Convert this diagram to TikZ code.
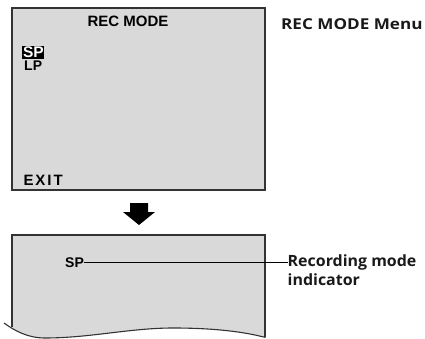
\documentclass[tikz,border=0pt]{standalone}
\usepackage{fontspec}
\setmainfont{Liberation Sans}
\newfontfamily\scrfont{Liberation Sans}
\newfontfamily\labfont{Open Sans}
\newfontfamily\menufont{Open Sans}[FakeStretch=1.14]
\newfontfamily\recfont{Open Sans}[FakeStretch=1.03]
\begin{document}
\begin{tikzpicture}[x=1pt,y=-1pt,
  screen/.style={fill=scrgray,draw=scrline,line width=1.3pt},
  scrtext/.style={font=\scrfont\bfseries\fontsize{15}{15}\selectfont,inner sep=0pt,text=black},
  hl/.style={font=\scrfont\bfseries\fontsize{15.5}{15.5}\selectfont,fill=black,text=white,inner xsep=0.8pt,inner ysep=0.8pt,text height=11pt,text depth=0pt},
  labtext/.style={font=\recfont\bfseries\fontsize{15.5}{15.5}\selectfont,inner sep=0pt,text=black!90},
  menutext/.style={font=\menufont\bfseries\fontsize{15}{15}\selectfont,inner sep=0pt,text=black!90},
  leader/.style={line width=1.1pt,draw=black}]
\definecolor{scrgray}{HTML}{D9D9D9}
\definecolor{scrline}{HTML}{333333}
\useasboundingbox (0,0) rectangle (425,339);
% top screen
\path[screen] (12,8) rectangle (265,190);
\node[scrtext,anchor=base] (title) at (128,26.3) {REC MODE};
\node[hl,anchor=base west] (sp1) at (22,58) {SP};
\node[scrtext,font=\scrfont\bfseries\fontsize{14}{14}\selectfont,anchor=base west] (lp) at (24,71) {LP};
\node[scrtext,anchor=base west] (exit) at (23.3,185.7) {\addfontfeature{LetterSpace=13}EXIT};
\node[menutext,anchor=base west] (menu) at (281,29.5) {REC MODE Menu};
% arrow
\fill[black] (130,203) -- (148,203) -- (148,212) -- (155,212) -- (139,225) -- (123,212) -- (130,212) -- cycle;
% bottom screen
\begin{scope}
\clip (12,230) rectangle (266,345);
\fill[scrgray] (4,235) -- (265,235) -- (265,337)
  .. controls (245,332) and (215,328) .. (173,328)
  .. controls (130,328) and (90,338) .. (45,338)
  .. controls (28,338) and (15,331) .. (4,323) -- cycle;
\end{scope}
\draw[scrline,line width=1.1pt] (12,327) -- (12,235) -- (265,235) -- (265,337);
\draw[scrline,line width=1.1pt] (265.5,337.5)
  .. controls (245,332) and (215,328) .. (173,328)
  .. controls (130,328) and (90,338) .. (45,338)
  .. controls (28,338) and (15,331) .. (4,323);
\node[scrtext,font=\scrfont\bfseries\fontsize{14}{14}\selectfont,anchor=base west] (sp2) at (65,267.3) {SP};
\node[labtext,anchor=base west] (rec) at (287.5,266.5) {Recording mode};
\node[labtext,anchor=base west] (ind) at (287.5,285) {indicator};
\draw[leader] (sp2.east) -- (sp2.east -| rec.west);
\end{tikzpicture}
\end{document}
